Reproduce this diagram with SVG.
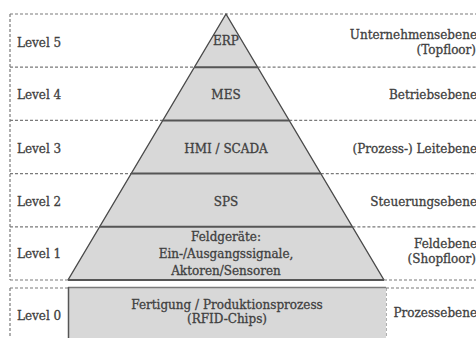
<svg xmlns="http://www.w3.org/2000/svg" width="476" height="338" viewBox="0 0 476 338">
  <style>
    .bg { fill: #ffffff; }
    .tier { fill: #d8d8d8; stroke: none; }
    .side { stroke: #4a4a4a; stroke-width: 1.4; fill: none; }
    .div { stroke: #555555; stroke-width: 2; fill: none; }
    .dash { stroke: #7a7a7a; stroke-width: 1.2; stroke-dasharray: 3 2; fill: none; }
    text { font-family: "DejaVu Serif", "Liberation Serif", serif; font-size: 12px; fill: #404040; stroke: #404040; stroke-width: 0.3; }
    .lvl { text-anchor: start; }
    .mid { text-anchor: middle; }
    .rt { text-anchor: end; }
  </style>
  <rect class="bg" x="0" y="0" width="476" height="338"/>

  <!-- dashed level frame -->
  <g id="frame">
    <line class="dash" x1="10" y1="14" x2="476" y2="14"/>
    <line class="dash" x1="10" y1="14" x2="10" y2="280"/>
    <line class="dash" x1="10" y1="67.2" x2="194.4" y2="67.2"/>
    <line class="dash" x1="257.6" y1="67.2" x2="476" y2="67.2"/>
    <line class="dash" x1="10" y1="120.4" x2="162.8" y2="120.4"/>
    <line class="dash" x1="289.2" y1="120.4" x2="476" y2="120.4"/>
    <line class="dash" x1="10" y1="173.6" x2="131.2" y2="173.6"/>
    <line class="dash" x1="320.8" y1="173.6" x2="476" y2="173.6"/>
    <line class="dash" x1="10" y1="226.8" x2="99.6" y2="226.8"/>
    <line class="dash" x1="352.4" y1="226.8" x2="476" y2="226.8"/>
    <line class="dash" x1="10" y1="280" x2="68" y2="280"/>
    <line class="dash" x1="384" y1="280" x2="476" y2="280"/>
    <!-- level 0 frame -->
    <line class="dash" x1="10" y1="288" x2="68" y2="288"/>
    <line class="dash" x1="10" y1="288" x2="10" y2="338"/>
    <line class="dash" x1="386" y1="288" x2="476" y2="288"/>
    <line class="dash" x1="386" y1="288" x2="386" y2="338"/>
  </g>

  <!-- pyramid tiers -->
  <g id="level5">
    <polygon class="tier" points="226,14 257.6,67.2 194.4,67.2"/>
    <text class="lvl" x="17" y="46.5">Level 5</text>
    <text class="mid" x="226" y="45">ERP</text>
    <text class="rt" x="477" y="38.5">Unternehmensebene</text>
    <text class="rt" x="476" y="54">(Topfloor)</text>
  </g>
  <g id="level4">
    <polygon class="tier" points="194.4,67.2 257.6,67.2 289.2,120.4 162.8,120.4"/>
    <text class="lvl" x="17" y="99.3">Level 4</text>
    <text class="mid" x="226" y="99.3">MES</text>
    <text class="rt" x="477" y="99.3">Betriebsebene</text>
  </g>
  <g id="level3">
    <polygon class="tier" points="162.8,120.4 289.2,120.4 320.8,173.6 131.2,173.6"/>
    <text class="lvl" x="17" y="152.7">Level 3</text>
    <text class="mid" x="226" y="152.7">HMI / SCADA</text>
    <text class="rt" x="477" y="152.7">(Prozess-) Leitebene</text>
  </g>
  <g id="level2">
    <polygon class="tier" points="131.2,173.6 320.8,173.6 352.4,226.8 99.6,226.8"/>
    <text class="lvl" x="17" y="205.7">Level 2</text>
    <text class="mid" x="226" y="205.7">SPS</text>
    <text class="rt" x="477" y="205.7">Steuerungsebene</text>
  </g>
  <g id="level1">
    <polygon class="tier" points="99.6,226.8 352.4,226.8 384,280 68,280"/>
    <text class="lvl" x="17" y="258.3">Level 1</text>
    <text class="mid" x="226" y="241">Feldgeräte:</text>
    <text class="mid" x="226" y="258">Ein-/Ausgangssignale,</text>
    <text class="mid" x="226" y="274.5">Aktoren/Sensoren</text>
    <text class="rt" x="477" y="247.7">Feldebene</text>
    <text class="rt" x="476" y="263.3">(Shopfloor)</text>
  </g>

  <!-- pyramid outline and tier dividers -->
  <g id="outline">
    <polyline class="side" points="68,280 226,14 384,280"/>
    <line class="div" x1="194.4" y1="67.2" x2="257.6" y2="67.2"/>
    <line class="div" x1="162.8" y1="120.4" x2="289.2" y2="120.4"/>
    <line class="div" x1="131.2" y1="173.6" x2="320.8" y2="173.6"/>
    <line class="div" x1="99.6" y1="226.8" x2="352.4" y2="226.8"/>
    <line class="div" x1="68" y1="280" x2="384" y2="280"/>
  </g>

  <!-- level 0 base block -->
  <g id="level0">
    <rect class="tier" x="68" y="287.5" width="318" height="52"/>
    <line stroke="#7a7a7a" stroke-width="1.5" x1="68" y1="287.5" x2="386" y2="287.5"/>
    <line stroke="#555555" stroke-width="1.5" x1="68.5" y1="287" x2="68.5" y2="338"/>
    <text class="lvl" x="17" y="320.3">Level 0</text>
    <text class="mid" x="227" y="309">Fertigung / Produktionsprozess</text>
    <text class="mid" x="227" y="323.3">(RFID-Chips)</text>
    <text class="rt" x="477" y="316.7">Prozessebene</text>
  </g>
</svg>
